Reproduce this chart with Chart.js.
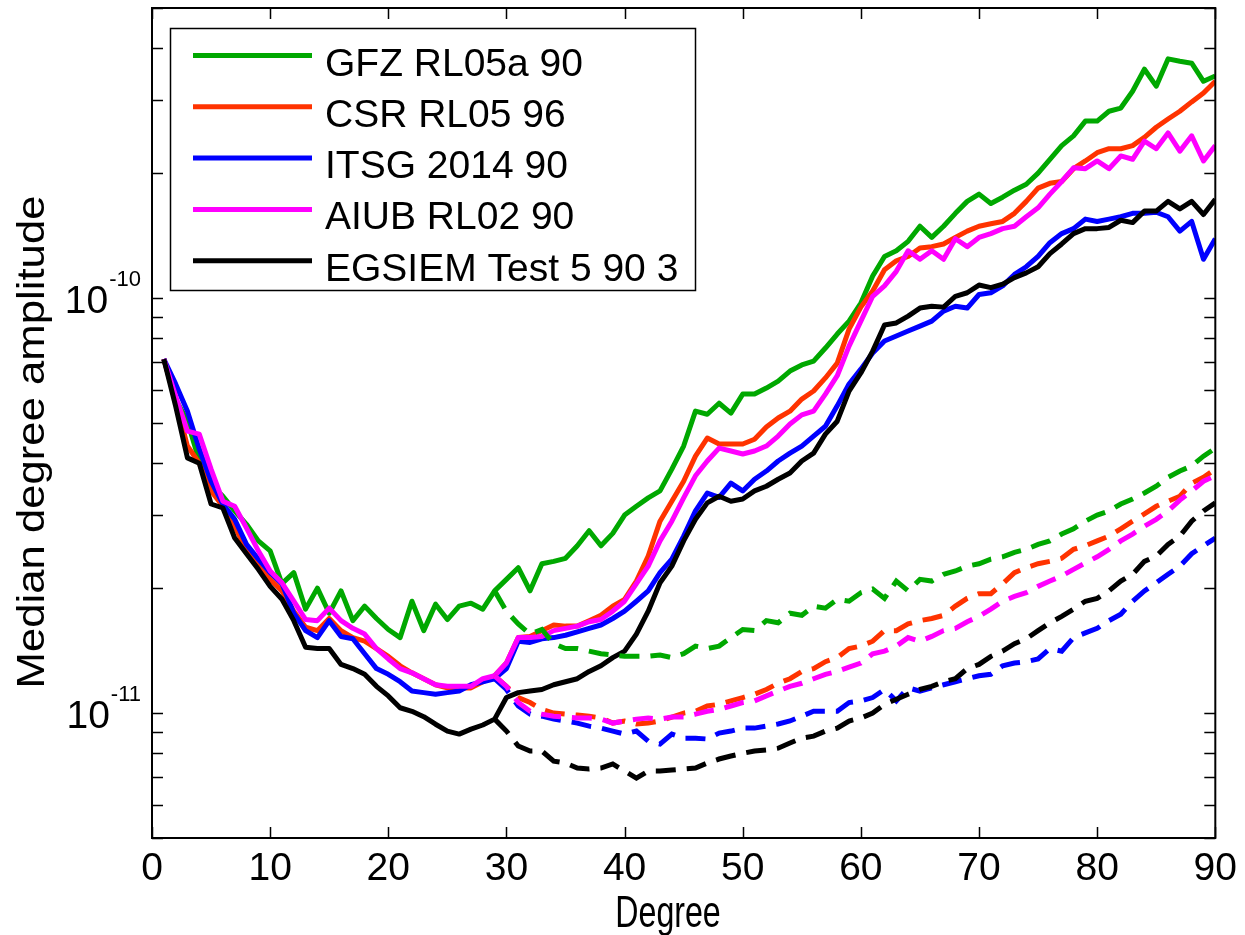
<!DOCTYPE html>
<html>
<head>
<meta charset="utf-8">
<title>Median degree amplitude</title>
<script src="https://cdn.jsdelivr.net/npm/chart.js@4.4.1/dist/chart.umd.min.js"></script>
<style>
  html, body { margin: 0; padding: 0; background: #fff; }
  canvas { display: block; }
</style>
</head>
<body>
<canvas id="amplitudeChart" width="1245" height="935"></canvas>
<script>
const FONT = "'Liberation Sans', Arial, Helvetica, sans-serif";
const UNIT = 1e-11; // amplitudes below are listed in units of 1e-11

const degrees = Array.from({ length: 90 }, (_, i) => i + 1);
const xTicks = [0, 10, 20, 30, 40, 50, 60, 70, 80, 90];
const yLabelTicks = [1e-11, 1e-10];
const yLabelExponents = ["-11", "-10"];
const xTitle = "Degree";
const yTitle = "Median degree amplitude";

const seriesNames = ["GFZ RL05a 90", "CSR RL05 96", "ITSG 2014 90", "AIUB RL02 90", "EGSIEM Test 5 90 3"];
const seriesColors = ["#00a800", "#ff3300", "#0000ff", "#ff00ff", "#000000"];

// solid curves, degree 1..90
const gfz = [
  7.13, 5.71, 5.05, 4.05, 3.56, 3.33, 3.07, 2.85, 2.60, 2.46,
  2.05, 2.18, 1.78, 2.00, 1.74, 1.97, 1.67, 1.81, 1.69, 1.59,
  1.52, 1.86, 1.58, 1.83, 1.68, 1.81, 1.84, 1.78, 1.97, 2.10,
  2.24, 1.97, 2.29, 2.32, 2.36, 2.53, 2.75, 2.53, 2.71, 3.00,
  3.15, 3.30, 3.43, 3.87, 4.40, 5.34, 5.25, 5.58, 5.28, 5.87,
  5.87, 6.07, 6.31, 6.67, 6.90, 7.05, 7.58, 8.19, 8.80, 9.73,
  11.3, 12.6, 13.0, 13.7, 14.9, 14.0, 14.9, 16.0, 17.1, 17.8,
  16.9, 17.5, 18.2, 18.8, 20.0, 21.6, 23.3, 24.6, 26.7, 26.7,
  28.2, 28.7, 31.5, 35.6, 32.4, 37.7, 37.2, 36.8, 33.3, 34.3
];
const csr = [
  7.13, 5.65, 4.40, 4.00, 3.43, 3.15, 2.82, 2.46, 2.26, 2.10,
  1.97, 1.76, 1.61, 1.58, 1.69, 1.58, 1.52, 1.49, 1.43, 1.37,
  1.30, 1.25, 1.21, 1.17, 1.15, 1.15, 1.15, 1.19, 1.23, 1.32,
  1.52, 1.53, 1.58, 1.63, 1.62, 1.62, 1.67, 1.72, 1.81, 1.88,
  2.08, 2.39, 2.90, 3.24, 3.62, 4.16, 4.60, 4.45, 4.45, 4.45,
  4.57, 4.89, 5.14, 5.34, 5.71, 5.97, 6.42, 6.97, 8.42, 9.51,
  10.4, 11.7, 12.3, 12.6, 13.2, 13.3, 13.5, 14.0, 14.5, 14.9,
  15.1, 15.3, 16.0, 17.1, 18.4, 18.9, 19.1, 20.5, 21.4, 22.4,
  22.9, 22.9, 23.3, 24.4, 25.8, 27.0, 28.2, 29.7, 31.2, 33.3
];
const itsg = [
  7.13, 6.21, 5.34, 4.33, 3.62, 3.19, 2.93, 2.55, 2.35, 2.18,
  2.05, 1.74, 1.58, 1.52, 1.67, 1.53, 1.51, 1.39, 1.28, 1.24,
  1.19, 1.13, 1.12, 1.11, 1.12, 1.13, 1.17, 1.19, 1.21, 1.28,
  1.49, 1.48, 1.51, 1.52, 1.54, 1.57, 1.60, 1.63, 1.69, 1.76,
  1.86, 1.97, 2.18, 2.35, 2.67, 3.07, 3.39, 3.31, 3.58, 3.43,
  3.66, 3.83, 4.05, 4.23, 4.40, 4.65, 4.91, 5.50, 6.21, 6.74,
  7.37, 7.88, 8.10, 8.33, 8.56, 8.80, 9.30, 9.56, 9.46, 10.2,
  10.3, 10.7, 11.4, 11.9, 12.6, 13.6, 14.3, 14.7, 15.5, 15.3,
  15.5, 15.7, 16.0, 16.0, 16.1, 15.7, 14.5, 15.3, 12.4, 13.9
];
const aiub = [
  7.13, 5.81, 4.78, 4.70, 3.87, 3.24, 3.15, 2.79, 2.46, 2.20,
  2.06, 1.86, 1.68, 1.67, 1.79, 1.67, 1.60, 1.55, 1.43, 1.35,
  1.28, 1.25, 1.21, 1.17, 1.16, 1.16, 1.16, 1.21, 1.23, 1.32,
  1.52, 1.52, 1.53, 1.58, 1.60, 1.62, 1.66, 1.68, 1.76, 1.86,
  2.05, 2.26, 2.60, 2.90, 3.30, 3.73, 4.05, 4.35, 4.28, 4.21,
  4.28, 4.40, 4.65, 4.97, 5.23, 5.34, 5.87, 6.50, 7.66, 8.80,
  10.1, 10.7, 11.6, 13.0, 12.4, 13.0, 12.4, 13.9, 13.3, 14.0,
  14.3, 14.7, 14.9, 15.7, 16.5, 17.8, 19.1, 20.6, 20.5, 21.4,
  20.5, 22.0, 21.6, 23.9, 22.9, 25.0, 22.6, 24.6, 21.4, 23.3
];
const egsiem = [
  7.13, 5.49, 4.12, 4.00, 3.19, 3.12, 2.64, 2.42, 2.22, 2.02,
  1.88, 1.67, 1.44, 1.43, 1.43, 1.31, 1.28, 1.24, 1.16, 1.10,
  1.03, 1.01, 0.98, 0.94, 0.905, 0.89, 0.915, 0.936, 0.967, 1.09,
  1.12, 1.13, 1.14, 1.17, 1.19, 1.21, 1.26, 1.30, 1.36, 1.41,
  1.55, 1.76, 2.06, 2.26, 2.60, 2.93, 3.21, 3.33, 3.24, 3.28,
  3.43, 3.52, 3.66, 3.79, 4.05, 4.23, 4.70, 5.05, 5.97, 6.60,
  7.45, 8.61, 8.71, 9.05, 9.46, 9.56, 9.51, 10.1, 10.3, 10.75,
  10.6, 10.8, 11.2, 11.5, 11.9, 12.8, 13.5, 14.3, 14.7, 14.7,
  14.8, 15.4, 15.2, 16.2, 16.2, 17.1, 16.4, 17.1, 15.9, 17.3
];

// dashed curves, degree 29..90 (they follow the solid ones below degree 29)
const DASH_START = 29;
const gfzDash = [
  1.97, 1.76, 1.64, 1.55, 1.59, 1.47, 1.43, 1.43, 1.41, 1.39,
  1.38, 1.37, 1.37, 1.37, 1.38, 1.36, 1.39, 1.45, 1.43, 1.45,
  1.52, 1.59, 1.58, 1.67, 1.65, 1.74, 1.72, 1.81, 1.79, 1.88,
  1.86, 1.95, 1.99, 1.89, 2.08, 1.97, 2.10, 2.08, 2.16, 2.20,
  2.26, 2.29, 2.35, 2.38, 2.44, 2.48, 2.55, 2.60, 2.70, 2.78,
  2.90, 3.00, 3.07, 3.19, 3.28, 3.39, 3.52, 3.70, 3.83, 3.94,
  4.16, 4.35
];
const csrDash = [
  1.23, 1.16, 1.09, 1.06, 1.02, 1.00, 0.994, 0.989, 0.983, 0.973,
  0.946, 0.957, 0.941, 0.946, 0.957, 0.978, 1.00, 1.01, 1.04, 1.05,
  1.07, 1.09, 1.11, 1.14, 1.18, 1.21, 1.26, 1.28, 1.33, 1.36,
  1.43, 1.45, 1.49, 1.58, 1.58, 1.64, 1.67, 1.69, 1.72, 1.81,
  1.89, 1.94, 1.94, 2.05, 2.18, 2.24, 2.29, 2.32, 2.36, 2.48,
  2.53, 2.60, 2.67, 2.78, 2.90, 3.02, 3.15, 3.24, 3.33, 3.58,
  3.70, 3.87
];
const itsgDash = [
  1.21, 1.14, 1.04, 0.994, 0.983, 0.967, 0.957, 0.946, 0.93, 0.92,
  0.905, 0.89, 0.905, 0.856, 0.842, 0.89, 0.87, 0.87, 0.866, 0.895,
  0.905, 0.92, 0.92, 0.93, 0.941, 0.957, 0.983, 1.01, 1.01, 1.01,
  1.06, 1.07, 1.09, 1.14, 1.07, 1.15, 1.13, 1.15, 1.17, 1.19,
  1.21, 1.23, 1.24, 1.30, 1.32, 1.33, 1.35, 1.43, 1.41, 1.52,
  1.56, 1.60, 1.67, 1.73, 1.86, 1.97, 2.06, 2.16, 2.26, 2.42,
  2.53, 2.64
];
const aiubDash = [
  1.23, 1.16, 1.06, 1.01, 0.994, 0.983, 0.978, 0.973, 0.973, 0.967,
  0.946, 0.957, 0.967, 0.973, 0.967, 0.978, 0.978, 0.994, 1.01, 1.02,
  1.04, 1.06, 1.07, 1.10, 1.13, 1.16, 1.18, 1.21, 1.24, 1.26,
  1.29, 1.32, 1.39, 1.41, 1.45, 1.52, 1.49, 1.53, 1.58, 1.60,
  1.66, 1.71, 1.78, 1.86, 1.91, 1.95, 2.02, 2.08, 2.14, 2.22,
  2.30, 2.38, 2.48, 2.60, 2.70, 2.82, 2.93, 3.07, 3.26, 3.43,
  3.62, 3.73
];
const egsiemDash = [
  0.967, 0.905, 0.833, 0.81, 0.81, 0.766, 0.758, 0.737, 0.733, 0.737,
  0.754, 0.725, 0.697, 0.725, 0.725, 0.729, 0.733, 0.737, 0.758, 0.775,
  0.788, 0.80, 0.81, 0.815, 0.823, 0.847, 0.87, 0.88, 0.905, 0.92,
  0.957, 0.973, 1.00, 1.05, 1.08, 1.11, 1.14, 1.16, 1.19, 1.21,
  1.28, 1.31, 1.37, 1.41, 1.47, 1.51, 1.58, 1.65, 1.71, 1.78,
  1.86, 1.89, 1.97, 2.08, 2.16, 2.32, 2.39, 2.55, 2.67, 2.90,
  3.07, 3.21
];

const solidSeries = [gfz, csr, itsg, aiub, egsiem];
const dashedSeries = [gfzDash, csrDash, itsgDash, aiubDash, egsiemDash];

const LINE_W = 5;
const TICK_LEN = 11;

function toPoints(values, firstDegree) {
  return values.map((v, i) => ({ x: firstDegree + i, y: v * UNIT }));
}

const datasets = [];
solidSeries.forEach((vals, i) => {
  datasets.push({
    label: seriesNames[i],
    data: toPoints(vals, degrees[0]),
    borderColor: seriesColors[i],
    borderWidth: LINE_W,
    pointRadius: 0,
    tension: 0,
    borderJoinStyle: "round",
    order: 10 - i
  });
});
dashedSeries.forEach((vals, i) => {
  datasets.push({
    label: seriesNames[i] + " (dashed)",
    data: toPoints(vals, DASH_START),
    borderColor: seriesColors[i],
    borderWidth: LINE_W,
    borderDash: [20, 11],
    pointRadius: 0,
    tension: 0,
    order: 5 - i
  });
});

// axes box with inward ticks, 10^n labels, axis titles and the legend
const axesDecor = {
  id: "axesDecor",
  afterDatasetsDraw(chart) {
    const { ctx, chartArea } = chart;
    const { left, right, top, bottom } = chartArea;
    const xs = chart.scales.x;
    const ys = chart.scales.y;
    ctx.save();
    ctx.strokeStyle = "#000";
    ctx.lineWidth = 1.5;
    ctx.beginPath();
    xTicks.forEach((v) => {
      const px = Math.round(xs.getPixelForValue(v)) + 0.5;
      ctx.moveTo(px, bottom);
      ctx.lineTo(px, bottom - TICK_LEN);
      ctx.moveTo(px, top);
      ctx.lineTo(px, top + TICK_LEN);
    });
    ys.ticks.forEach((t) => {
      const py = Math.round(ys.getPixelForValue(t.value)) + 0.5;
      ctx.moveTo(left, py);
      ctx.lineTo(left + TICK_LEN, py);
      ctx.moveTo(right, py);
      ctx.lineTo(right - TICK_LEN, py);
    });
    ctx.stroke();
    ctx.lineWidth = 2;
    ctx.strokeRect(left, top, right - left, bottom - top);

    // y tick labels "10" with a raised exponent
    ctx.fillStyle = "#000";
    ctx.textAlign = "right";
    ctx.textBaseline = "alphabetic";
    yLabelTicks.forEach((v, i) => {
      const py = ys.getPixelForValue(v);
      ctx.font = "22px " + FONT;
      const expW = ctx.measureText(yLabelExponents[i]).width;
      ctx.fillText(yLabelExponents[i], 141, py - 12);
      ctx.font = "39px " + FONT;
      ctx.fillText("10", 141 - expW - 1, py + 15);
    });

    // axis titles
    ctx.textAlign = "center";
    ctx.save();
    ctx.font = "44px " + FONT;
    ctx.translate(668, 927);
    ctx.scale(0.73, 1);
    ctx.fillText(xTitle, 0, 0);
    ctx.restore();
    ctx.save();
    ctx.font = "39px " + FONT;
    ctx.translate(44, 442);
    ctx.rotate(-Math.PI / 2);
    ctx.scale(1.12, 1);
    ctx.fillText(yTitle, 0, 0);
    ctx.restore();

    // legend box
    const box = { x: 170, y: 28, w: 525, h: 262 };
    ctx.fillStyle = "#fff";
    ctx.fillRect(box.x, box.y, box.w, box.h);
    ctx.lineWidth = 1.5;
    ctx.strokeStyle = "#000";
    ctx.strokeRect(box.x + 0.5, box.y + 0.5, box.w, box.h);
    ctx.font = "39px " + FONT;
    ctx.textAlign = "left";
    ctx.textBaseline = "alphabetic";
    seriesNames.forEach((name, i) => {
      const rowY = box.y + 27.5 + i * 51.3;
      ctx.strokeStyle = seriesColors[i];
      ctx.lineWidth = LINE_W;
      ctx.beginPath();
      ctx.moveTo(193, rowY);
      ctx.lineTo(312, rowY);
      ctx.stroke();
      ctx.fillStyle = "#000";
      ctx.fillText(name, 325, rowY + 20);
    });
    ctx.restore();
  }
};

new Chart(document.getElementById("amplitudeChart"), {
  type: "line",
  data: { datasets },
  options: {
    responsive: false,
    animation: false,
    devicePixelRatio: 1,
    layout: { padding: { top: 8, right: 23, left: 0, bottom: 0 } },
    plugins: {
      legend: { display: false },
      tooltip: { enabled: false }
    },
    scales: {
      x: {
        type: "linear",
        min: 0,
        max: 90,
        grid: { display: false, drawTicks: false },
        border: { display: false },
        ticks: {
          stepSize: 10,
          maxRotation: 0,
          autoSkip: false,
          padding: 8,
          color: "#000",
          font: { family: FONT, size: 39 }
        },
        afterFit(scale) { scale.height = 97; }
      },
      y: {
        type: "logarithmic",
        min: 5e-12,
        max: 5e-10,
        grid: { display: false, drawTicks: false },
        border: { display: false },
        ticks: { display: false },
        afterBuildTicks(scale) {
          const ticks = [];
          for (let e = -12; e <= -10; e++) {
            for (let m = 1; m <= 9; m++) {
              const v = m * Math.pow(10, e);
              if (v >= scale.min * 0.999 && v <= scale.max * 1.001) ticks.push({ value: v });
            }
          }
          scale.ticks = ticks;
        },
        afterFit(scale) { scale.width = 152; }
      }
    }
  },
  plugins: [axesDecor]
});
</script>
</body>
</html>
